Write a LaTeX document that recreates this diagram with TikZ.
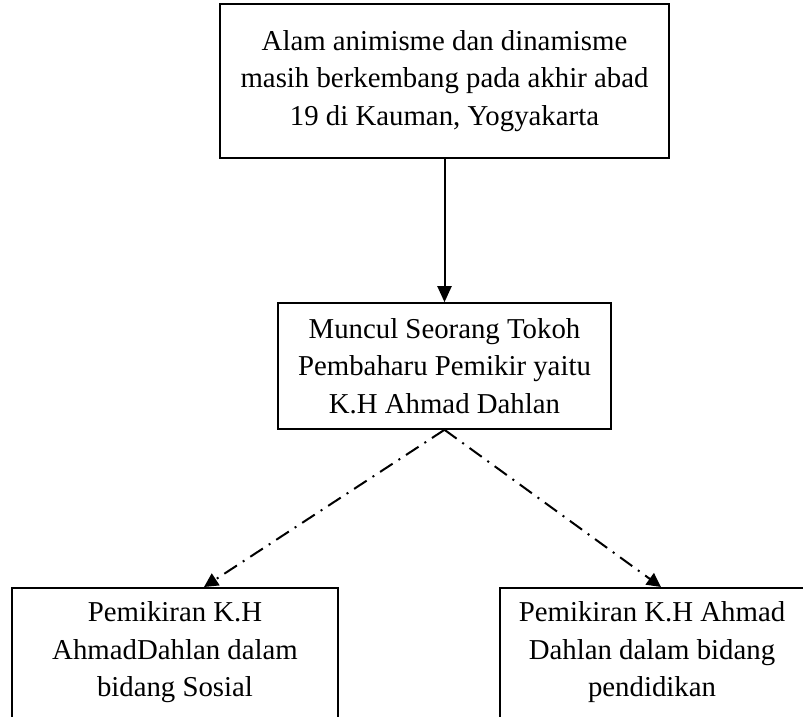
\documentclass[tikz,border=0pt]{standalone}
\usepackage{fontspec}
\setmainfont{Liberation Serif}
\usetikzlibrary{arrows.meta}
\begin{document}
\begin{tikzpicture}[x=1pt,y=-1pt,
  box/.style={draw,line width=1.6pt,rectangle,align=center,inner sep=0pt,
    font=\fontsize{28.8}{37.5}\selectfont},
  solidarrow/.style={line width=2pt,-{Triangle[width=14pt,length=16pt]}},
  dasharrow/.style={line width=2pt,dash pattern=on 15pt off 7pt on 2pt off 7pt,
    -{Triangle[width=14pt,length=14pt]}}]
\useasboundingbox (0,0) rectangle (803,717);
\clip (0,0) rectangle (803,717);
\node[box,minimum width=449pt,minimum height=154pt] (top) at (444.5,81)
  {Alam animisme dan dinamisme\\masih berkembang pada akhir abad\\19 di Kauman, Yogyakarta};
\node[box,minimum width=333pt,minimum height=126pt] (mid) at (444.5,366)
  {Muncul Seorang Tokoh\\Pembaharu Pemikir yaitu\\K.H Ahmad Dahlan};
\node[box,minimum width=326pt,minimum height=160pt,anchor=north] (bl) at (175,587)
  {\strut Pemikiran K.H\\AhmadDahlan dalam\\bidang Sosial\\[6pt]};
\node[box,minimum width=304pt,minimum height=160pt,anchor=north] (br) at (652,587)
  {\strut Pemikiran K.H Ahmad\\Dahlan dalam bidang\\pendidikan\\[6pt]};
\coordinate (tipL) at (204,587);
\coordinate (tipR) at (661,587);
\draw[solidarrow] (top.south) -- (mid.north);
\draw[dasharrow] (mid.south) -- (tipL);
\draw[dasharrow] (mid.south) -- (tipR);
\end{tikzpicture}
\end{document}
